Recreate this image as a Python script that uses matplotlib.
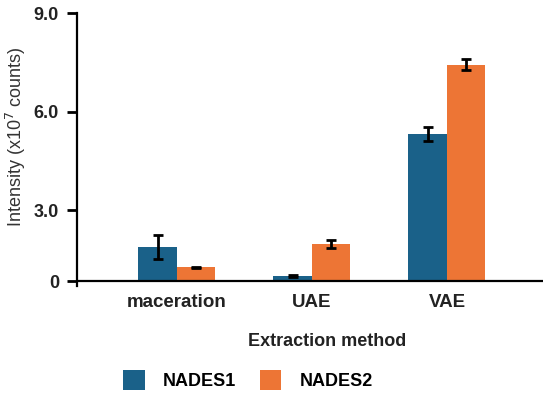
import numpy as np
import matplotlib
matplotlib.use("Agg")
import matplotlib.pyplot as plt
from matplotlib.patches import Patch

# data
methods = ["maceration", "UAE", "VAE"]
nades1 = [1.45, 0.22, 5.32]
nades1_err = [0.50, 0.03, 0.20]
nades2 = [0.58, 1.57, 7.43]
nades2_err = [0.03, 0.18, 0.17]
series_names = ["NADES1", "NADES2"]
yticks = [0, 3, 6, 9]
ytick_labels = ["0", "3.0", "6.0", "9.0"]

blue = "#1a6189"
orange = "#ed7535"

plt.rcParams["font.family"] = ["Liberation Sans", "DejaVu Sans"]

# the value axis is drawn in two segments: 0-3 compressed, 3-9 linear
k = 71 / 99


def fwd(y):
    y = np.asarray(y, dtype=float)
    return np.where(y < 3, y * k, 3 * k + (y - 3))


def inv(t):
    t = np.asarray(t, dtype=float)
    return np.where(t < 3 * k, t / k, t - 3 * k + 3)


fig = plt.figure(figsize=(5.5, 3.97), dpi=100)
ax = fig.add_axes([0.14, 0.2796, 0.847, 0.6874])
ax.set_yscale("function", functions=(fwd, inv))

x = np.arange(len(methods))
w = 0.285
ax.bar(x - w / 2, nades1, w, color=blue, zorder=2)
ax.bar(x + w / 2, nades2, w, color=orange, zorder=2)
ekw = dict(fmt="none", ecolor="black", elinewidth=2, capsize=3.3, capthick=2, zorder=3)
ax.errorbar(x - w / 2, nades1, yerr=nades1_err, **ekw)
ax.errorbar(x + w / 2, nades2, yerr=nades2_err, **ekw)

ax.set_xlim(-0.74, 2.71)
ax.set_ylim(-0.21, 9.0)
ax.axhline(0, color="black", lw=1.6, zorder=4)

for s in ["top", "right", "bottom"]:
    ax.spines[s].set_visible(False)
ax.spines["left"].set_linewidth(1.6)

ax.set_yticks(yticks)
ax.set_yticklabels(ytick_labels, fontsize=13, fontweight="bold", color="#222222")
ax.yaxis.set_minor_locator(matplotlib.ticker.NullLocator())
ax.tick_params(axis="y", length=7, width=2, pad=6)

ax.set_xticks(x)
ax.set_xticklabels(methods, fontsize=13.5, fontweight="bold", color="#222222")
ax.tick_params(axis="x", length=0, pad=6)

ax.set_ylabel("Intensity (x10$^{7}$ counts)", fontsize=13, color="#333333")
ax.yaxis.set_label_coords(-0.105, 0.546)

fig.text(0.594, 0.14, "Extraction method", fontsize=13, fontweight="bold",
         color="#222222", ha="center", va="center")

handles = [Patch(facecolor=blue), Patch(facecolor=orange)]
fig.legend(handles, series_names, loc="center", bbox_to_anchor=(0.451, 0.043),
           ncol=2, frameon=False, prop={"size": 13, "weight": "bold"},
           handlelength=1.2, handleheight=1.3, handletextpad=1.0, columnspacing=1.3)

fig.savefig("out.png", dpi=100)
